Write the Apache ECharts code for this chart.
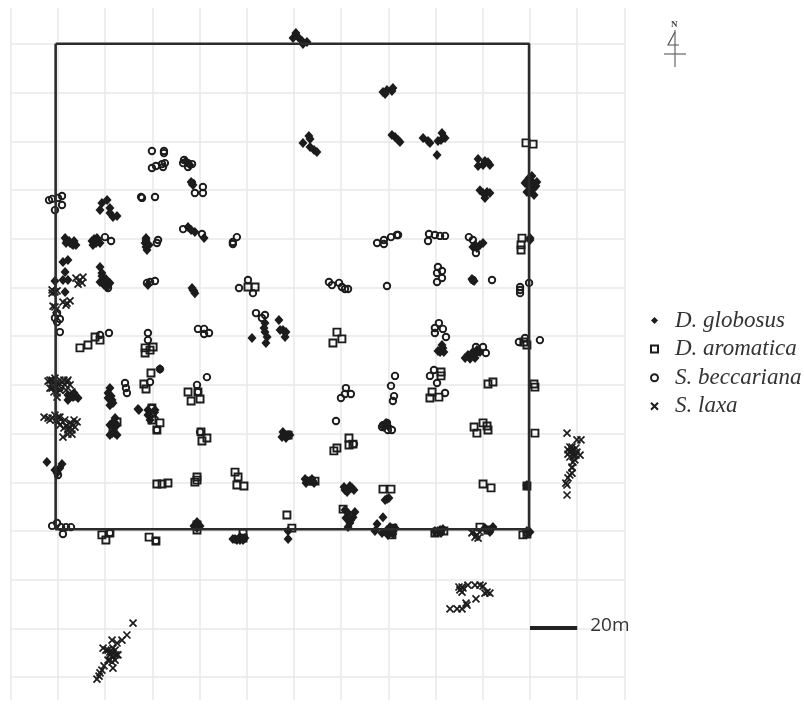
<!DOCTYPE html>
<html><head><meta charset="utf-8">
<style>html,body{margin:0;padding:0;background:#fff}#c{width:804px;height:704px}</style>
<script src="https://cdn.jsdelivr.net/npm/echarts@6/dist/echarts.min.js"></script>
</head><body><div id="c"></div>
<script>
// positions in metres, plot origin at the lower-left corner
const speciesNames = ['D. globosus','D. aromatica','S. beccariana','S. laxa'];
const gridRowsY = [-60,-40,-20,0,20,40,60,80,100,120,140,160,180,200];
const plotOutline = [[-1,200.1],[199.6,200.1],[199.6,0.7],[-1,0.7],[-1,200.1]];
const scaleBar = [[200,-39.8],[220,-39.8]];
const globosus = [[100.8,204.5],[99.6,202.5],[101.7,202.9],[103.4,201.2],[105.5,200.8],[103.8,200],[106.3,162.2],[106.8,161],[103.8,159.4],[106.8,157.7],[108.5,156.5],[109.7,155.7],[20.8,135.9],[18.6,134.7],[17.8,131.8],[22,132.7],[22,130.6],[23.3,129],[25,129.4],[56.4,143.3],[57.2,142.1],[55.1,124.9],[56.4,123.6],[58,122.8],[61.9,120.3],[137.7,180.3],[139.4,181.1],[141.9,181.9],[141.5,180.7],[138.6,179.5],[141.5,162.6],[142.8,161.8],[144.1,160.6],[144.9,159.8],[154.7,161.4],[157.6,159.4],[156.8,160.2],[162.7,163.5],[164,161.4],[162.3,160.6],[161,160.2],[160.6,154.4],[178,152.8],[182.2,151.5],[178,149.9],[180.1,150.3],[183,150.3],[180.9,152],[178.8,140],[181.8,139.2],[180.9,136.8],[183,138.8],[180.1,138.8],[200,144.2],[199.1,142.1],[201.7,140.9],[201.3,142.9],[198.7,143.7],[200.4,139.2],[202.5,141.7],[199.6,145],[200.8,145.8],[200,120.3],[3,120.3],[3.8,119.1],[5.1,118.3],[6.4,117.5],[7.6,117.5],[15.7,118.7],[16.9,119.5],[16.5,120.3],[14.4,119.1],[37.3,120.3],[36.9,118.3],[37.7,115.4],[37.3,116.6],[2.1,110.5],[4.2,111.3],[3,106.4],[2.1,103.1],[-1.3,102.7],[4.2,103.1],[3,98.2],[17.8,108.4],[18.6,106],[19.1,103.1],[21.2,101],[17.8,102.3],[19.9,101.9],[57.2,99],[58,97.7],[56.8,99.8],[57.6,98.6],[93.6,86.7],[82.2,79.3],[87.7,85.4],[87.7,81.7],[88.6,79.7],[88.1,77.2],[87.3,83.4],[95.3,82.6],[96.2,79.7],[94.1,82.6],[96.6,81.7],[22,58.7],[21.2,56.7],[22.9,53.8],[23.3,52.6],[22.5,55.4],[33.9,50.1],[34.3,49.7],[43.2,66.5],[6.4,55],[5.1,55],[24.2,46.4],[23.3,42.7],[22.9,40.2],[24.2,40.2],[96.2,39.4],[97.5,39.4],[-4.7,28.3],[1.7,27.5],[0.8,25.9],[-1.3,25.1],[-0.4,23.8],[176.7,117.5],[178.8,117.5],[177.5,116.2],[180.1,118.3],[175.8,116.6],[200,119.5],[175.8,103.1],[175.4,103.5],[176.3,102.7],[162.7,76.4],[161.9,73.5],[163.1,75.2],[161,73.9],[163.5,73.5],[173.7,72.3],[176.7,72.3],[176.7,71.1],[177.5,74.3],[175.4,73.1],[121.6,16.8],[123.3,17.2],[124.6,17.7],[139.4,13.1],[138.6,12.7],[140.2,13.6],[121.6,8.6],[122.9,7.4],[125,5.7],[123.7,3.3],[122.9,1.6],[137.7,5.7],[135.2,2.9],[134.3,0],[137.3,-0.8],[161,0],[161.9,0.4],[77.1,-3.7],[75.8,-3.7],[78.4,-3.7],[75,-3.3],[58.9,2.5],[58.9,1.2],[97.5,0],[97.5,-3.3],[106.8,20.5],[105.5,20.5],[108,20.5],[4.7,119.1],[5.9,117.9],[6.8,119.1],[3.4,118.3],[15.3,119.9],[16.1,118.3],[17.8,118.3],[14.8,117.5],[37.3,119.5],[38.6,117.5],[18.6,104.7],[20.3,103.5],[19.5,101],[22,101.9],[20.8,100.2],[95.3,40.7],[98.3,39.4],[96.6,38.2],[94.9,38.6],[4.2,55.9],[6.8,56.7],[8.5,54.6],[4.2,53.8],[22,43.5],[25,43.5],[22,39.4],[25,39.4],[23.3,44.8],[22,51.7],[21.2,54.6],[197.9,142.9],[202.9,143.3],[198.7,139.2],[201.7,138],[200,142.1],[38.1,49.7],[41.1,49.7],[39,45.6],[38.1,47.6],[121.2,18.1],[123.7,18.5],[125.4,16.8],[122.5,16],[104.7,21.4],[107.6,21.4],[105.1,19.7],[108.5,19.7],[74.1,-3.3],[77.1,-2.5],[79.2,-2.9],[139.4,0.4],[141.9,-1.2],[142.8,1.2],[140.7,1.6],[139.8,-1.6],[159.7,0],[163.1,0.8],[162.3,-0.8],[57.6,2.1],[60.2,2.1],[58.9,3.7],[198.7,0],[200,-0.4],[198.7,18.9],[124.1,4.5],[122,5.3],[125.8,7.8],[180.9,1.2],[183,-0.4],[184.3,1.6],[172.5,71.1],[174.6,70.7],[178.8,73.5],[54.2,152],[55.9,150.3],[38.1,101],[138.1,42.7],[139.8,43.1],[139,44.4]];
const aromatica = [[198.3,159.4],[201.3,158.9],[196.6,120.3],[196.2,117.5],[196.2,115.4],[198.7,76.4],[197.4,77.6],[80.5,100.2],[83.5,100.2],[9.3,75.2],[12.7,76.4],[15.7,79.7],[17.8,78.4],[36.9,75.2],[40.3,75.6],[36.9,73.1],[39,74.3],[39.4,64.9],[36.4,60.4],[37.3,58.3],[55.1,57.1],[59.3,57.1],[56.4,53.4],[60.2,54.2],[39.8,50.5],[39.8,45.6],[43.2,44.4],[41.9,41.5],[60.6,40.7],[63.1,38.2],[61,37],[96.2,39.4],[97.5,39.4],[23.3,40.7],[25,44.8],[6.4,55.4],[118.2,81.7],[120.3,78.9],[116.5,77.2],[162.3,65.3],[162.3,63.7],[158.5,57.1],[161.4,55],[157.6,54.6],[182.2,60.4],[184.3,61.2],[201.7,60.4],[202.1,59.1],[176.3,42.7],[177.5,40.2],[180.1,44.4],[182.2,41.5],[181.8,43.1],[202.1,40.2],[123.3,38.2],[123.3,35.3],[125,35.7],[118.2,34.1],[116.9,32.9],[41.9,19.3],[44.1,19.3],[46.6,19.7],[58.9,22.2],[58,20.1],[58.9,20.9],[75,24.2],[76.3,22.2],[75.8,18.9],[78.8,18.5],[106.8,20.5],[108.9,20.5],[18.6,-1.6],[22,-0.8],[20.3,-3.7],[38.6,-2.5],[41.5,-4.1],[58.9,2.5],[58.9,0.4],[78.4,-0.8],[78.4,-2.9],[97,6.6],[99.1,1.2],[120.8,9],[137.7,17.2],[141.1,17.2],[141.9,1.2],[141.5,-1.6],[160.6,-0.4],[163.5,0],[159.7,-0.8],[178.8,1.6],[182.2,0.4],[180.1,19.3],[183.5,17.7],[198.7,18.5],[198.7,-1.2],[197,-1.6]];
const beccariana = [[-3.8,135.9],[-2.5,136.4],[1.7,137.6],[1.7,133.9],[-1.3,131.8],[0,136.8],[39.8,156.1],[44.9,156.1],[44.9,155.2],[39.8,149.1],[41.5,149.9],[44.1,150.7],[45.3,151.1],[44.5,149.5],[53.4,152.4],[53,151.1],[55.1,151.1],[56.8,150.7],[55.1,149.5],[56.8,142.9],[61.4,141.3],[58,138.8],[61.4,138.8],[35.2,137.2],[35.6,136.8],[41.1,137.2],[53,124],[61,122],[75.8,120.7],[74.1,117.9],[74.1,118.7],[42.4,119.5],[41.9,118.3],[19.9,120.7],[22.5,119.1],[37.7,101.9],[41.1,102.7],[39,102.3],[80.5,103.1],[76.7,99.8],[82.6,97.7],[21.2,99.8],[-0.4,89.5],[0.8,87.1],[-0.4,85.8],[-1.3,87.5],[0.8,81.7],[17.8,80.5],[21.6,81.3],[38.1,81.3],[38.1,78.4],[59.3,83],[61.9,83],[64,81.3],[61.9,80.9],[83.9,89.5],[87.7,88.7],[86.4,87.5],[63.1,63.2],[58.9,60],[59.3,57.1],[39,61.2],[43.2,66.5],[28.4,60.8],[29.2,56.7],[28.8,58.7],[39.8,50.5],[41.9,41.5],[0.8,58.7],[60.2,40.7],[135.2,118.3],[138.1,119.5],[138.1,117.9],[141.1,120.7],[143.6,121.6],[144.1,121.6],[157.2,122],[156.8,119.1],[159.7,121.6],[161.9,121.2],[164,121.2],[174.1,120.7],[175.8,119.5],[177.1,114.2],[161,108.4],[162.7,106.8],[160.6,102.3],[162.7,103.9],[160.6,106],[183.9,103.1],[175.8,103.1],[139.4,100.6],[114.8,102.3],[116.1,101],[119.1,101.9],[120.3,100.2],[121.6,99.4],[122.9,99.4],[195.8,100.2],[195.8,99],[195.8,97.7],[199.6,101.9],[161.4,85.4],[159.7,83.4],[159.7,81.3],[163.1,83],[164.4,79.7],[204.2,78.4],[195.3,77.6],[197.9,79.3],[180.1,75.6],[181.3,73.1],[177.1,75.6],[142.8,63.7],[141.1,59.6],[142.4,55.4],[141.9,53.4],[159.3,66.1],[157.6,63.7],[160.6,60.8],[164,56.7],[122,58.7],[124.1,56.3],[119.9,54.6],[121.6,56.3],[117.8,45.2],[137.7,43.5],[139.4,44.4],[141.5,41.5],[139.8,41.5],[137.3,42.7],[125.4,35.7],[-2.5,2.1],[-0.4,3.3],[1.3,1.6],[3.4,1.6],[5.5,1.6],[2.1,-1.2],[22,-0.8],[41.5,-4.1],[0,23],[198.7,18.5],[198.7,-0.8]];
const laxa = [[9.3,103.1],[7.6,103.9],[10.6,104.3],[8.5,101.4],[10.2,101.9],[-1.3,98.2],[-2.5,97.7],[-0.4,98.6],[-2.5,99],[3.8,93.6],[2.1,94],[5.1,94.5],[3.4,92.8],[-1.3,92],[-0.8,90.8],[-2.1,92.4],[-2.5,62],[-1.3,62.8],[0.8,62],[4.2,62],[3,60],[-0.4,56.7],[-3.4,58.7],[-2.1,60.8],[3.8,61.2],[5.9,57.1],[1.7,61.2],[-4.2,61.6],[-0.8,59.6],[-0.4,55],[-4.2,46.4],[-1.3,47.6],[0,44.8],[2.1,44.8],[5.1,44.4],[7.2,42.7],[5.9,41.5],[2.1,38.6],[4.2,41.5],[-2.5,46.4],[8.1,44.8],[0.8,46.8],[-5.9,46.8],[3.4,43.1],[5.9,43.9],[39,48.5],[40.3,48.9],[41.1,47.6],[215.7,40.2],[219.9,37.4],[221.6,37.4],[217.8,33.3],[216.1,33.3],[218.2,32],[221.2,31.2],[216.9,30.4],[219,29.2],[217.8,26.3],[216.9,34.5],[219.5,34.1],[218.6,30.8],[216.1,31.6],[219.9,32.4],[218.2,28.3],[217.8,25.9],[216.9,23],[216.1,21.8],[215.7,18.9],[215.7,14.8],[217.8,23.8],[215.2,19.7],[171.2,-23],[170.3,-24.2],[171.6,-23.4],[173.7,-22.2],[176.7,-22.2],[180.1,-22.6],[180.9,-25.5],[183,-25.5],[177.1,-27.9],[173.3,-30.4],[171.2,-32],[169.1,-32],[166.1,-32],[181.8,-25.1],[178.8,-22.2],[171.2,-25.1],[169.9,-23],[172.9,-29.6],[175.8,-0.4],[177.5,-1.6],[178,-2.9],[176.7,-2.5],[175.4,-0.8],[178.8,-0.4],[31.8,-37.8],[29.2,-42.7],[27.1,-44.8],[25,-46],[22.9,-44.8],[20.3,-48.9],[24.2,-48.9],[23.3,-51.7],[21.2,-53],[24.2,-53],[22.9,-53.8],[23.3,-56.3],[18.6,-57.1],[17.8,-58.3],[16.5,-60.8],[22,-49.7],[19.1,-48.1],[25.4,-50.9],[22,-50.9],[19.5,-55.4],[17.4,-59.6],[-3.4,62],[0,60],[2.5,62],[5.1,60],[0.8,57.9],[-1.7,57.1],[3.4,57.9],[-2.5,58.7],[-3.4,45.6],[-0.8,45.6],[0.8,43.5],[2.9,45.6],[5.1,42.3],[6.8,45.6],[4.2,39.8],[2.5,42.3],[5.9,39.8],[0,46.8],[216.9,32.4],[219.5,31.2],[217.8,34.5],[21.2,-48.9],[23.3,-48.1],[22.9,-49.7],[24.6,-50.9],[22,-53]];

const INK = '#1c1c1c';
const hollow = {color:'rgba(255,255,255,0)',borderColor:INK,borderWidth:1.9,opacity:1};
const cross = {color:'rgba(255,255,255,0)',borderColor:INK,borderWidth:1.7,opacity:1};
const chart = echarts.init(document.getElementById('c'),null,{renderer:'canvas'});
chart.setOption({
  animation:false,
  backgroundColor:'#fff',
  grid:{left:10.8,top:8,width:613.6,height:692},
  xAxis:{type:'value',min:-20,max:240,interval:20,axisLine:{show:false},axisTick:{show:false},axisLabel:{show:false},
    splitLine:{show:true,lineStyle:{color:'#e9e9e9',width:1.5}}},
  yAxis:{type:'value',min:-69.4,max:214.8,axisLine:{show:false},axisTick:{show:false,customValues:gridRowsY},axisLabel:{show:false,customValues:gridRowsY},
    splitLine:{show:true,lineStyle:{color:'#e9e9e9',width:1.5}}},
  legend:{orient:'vertical',left:645,top:304,itemWidth:7,itemHeight:7,itemGap:5.6,data:speciesNames,selectedMode:false,
    textStyle:{fontFamily:'Liberation Serif',fontStyle:'italic',fontSize:23,color:'#333',padding:[0,0,0,12]}},
  series:[
    {type:'line',name:'plot',data:plotOutline,symbol:'none',silent:true,lineStyle:{color:'#2b2b2b',width:2.6}},
    {type:'line',name:'scale',data:scaleBar,symbol:'none',silent:true,lineStyle:{color:'#222',width:4},
      endLabel:{show:true,formatter:'20m',distance:13,offset:[0,-2],fontFamily:'Open Sans',fontSize:19,color:'#333'}},
    {type:'scatter',name:speciesNames[0],data:globosus,symbol:'diamond',symbolSize:[9,10],itemStyle:{color:INK,opacity:1}},
    {type:'scatter',name:speciesNames[1],data:aromatica,symbol:'rect',symbolSize:7,itemStyle:hollow},
    {type:'scatter',name:speciesNames[2],data:beccariana,symbol:'circle',symbolSize:6.5,itemStyle:hollow},
    {type:'scatter',name:speciesNames[3],data:laxa,symbol:'path://M0 0L10 10M10 0L0 10',symbolSize:7,itemStyle:cross}
  ],
  graphic:[
    {type:'text',left:671,top:20,style:{text:'N',font:'bold 9px Liberation Serif',fill:'#444'}},
    {type:'polyline',shape:{points:[[675,30],[675,67]]},style:{stroke:'#666',lineWidth:1.2,fill:null}},
    {type:'polyline',shape:{points:[[664,54],[686,54]]},style:{stroke:'#666',lineWidth:1.2,fill:null}},
    {type:'polyline',shape:{points:[[675,32],[668,45],[679,45]]},style:{stroke:'#555',lineWidth:1.2,fill:null}}
  ]
});
</script></body></html>
